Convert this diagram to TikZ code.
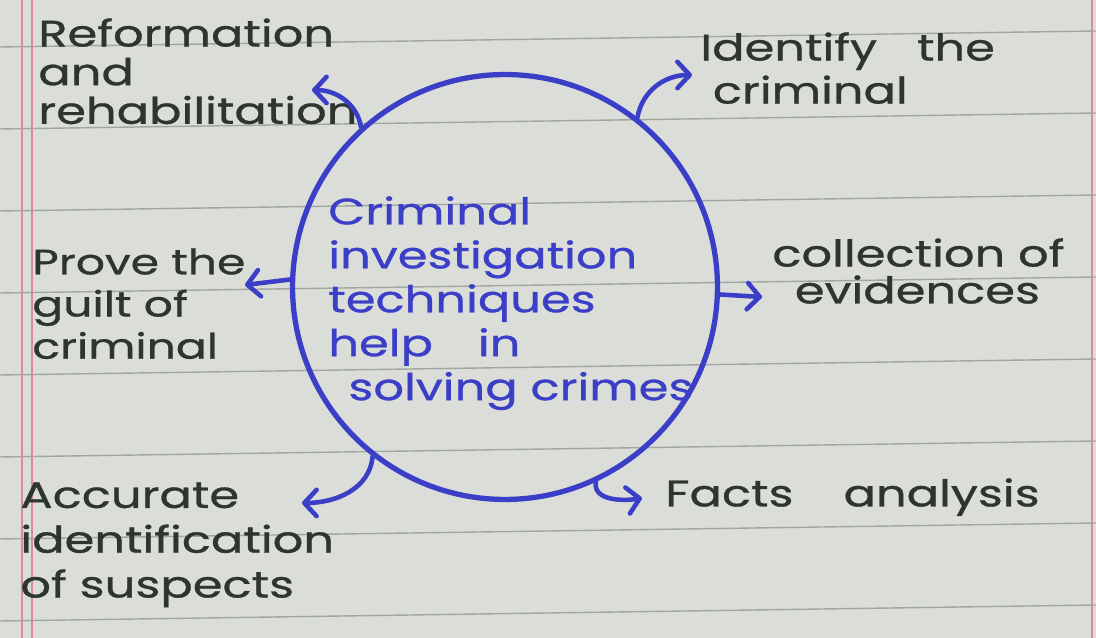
\documentclass[tikz,border=0pt]{standalone}
\usepackage{fontspec}
\setmainfont{Poppins}[FakeStretch=1.3, FakeBold=0.8]
\usepackage{tikz}
\usetikzlibrary{arrows.meta}
\definecolor{inkblue}{HTML}{3B3EC6}
\definecolor{graphite}{HTML}{2E3430}
\definecolor{paper}{HTML}{DADDD8}
\definecolor{rule}{HTML}{A2A6A2}
\definecolor{margin}{HTML}{D98A9B}

\begin{document}
\begin{tikzpicture}[x=0.02cm, y=0.02cm,
  penline/.style={draw=inkblue, line width=2.6pt, line cap=round},
  flow/.style={penline, -{Straight Barb[length=7pt, width=15pt, round]}},
  hub/.style={circle, draw=inkblue, line width=3pt, minimum size=8.5cm, inner sep=0pt},
  note/.style={text=graphite, align=left, anchor=north west, inner sep=0pt, font=\fontsize{21}{22}\selectfont},
  hubtext/.style={text=inkblue, align=left, anchor=north west, inner sep=0pt, font=\fontsize{21}{25}\selectfont}]
% paper
\fill[paper] (0,0) rectangle (1096,638);
\useasboundingbox (0,0) rectangle (1096,638);
\foreach \r in {17,99,...,591}
  \draw[rule, line width=0.8pt] (0,\r) -- (1096,\r+16);
\draw[margin, line width=1.2pt] (22,0) -- (22,638) (32,0) -- (32,638) (1092,0) -- (1092,638);

% centre
\node[hub] (hub) at (505,351) {};
\node[hubtext] (hubcap) at (328,442) {Criminal\\investigation\\techniques\\help\hspace{0.9cm}in\\\hspace{0.4cm}solving crimes};

% labels
\node[note] (reform) at (38,620) {Reformation\\and\\rehabilitation};
\node[note, font=\fontsize{21}{24.5}\selectfont] (ident) at (700,606) {Identify\hspace{0.8cm}the\\\hspace{0.25cm}criminal};
\node[note, font=\fontsize{20}{24}\selectfont] (prove) at (32,390) {Prove the\\guilt of\\criminal};
\node[note, font=\fontsize{21}{21}\selectfont] (collect) at (772,400) {collection of\\\hspace{0.45cm}evidences};
\node[note, font=\fontsize{21}{25.5}\selectfont] (accur) at (20,156) {Accurate\\identification\\of suspects};
\node[note] (facts) at (665,160) {Facts\hspace{1cm}analysis};

% arrow ends
\coordinate (tipReform) at (312,548);
\coordinate (tipIdent) at (692,563);
\coordinate (tipProve) at (245,353);
\coordinate (tipCollect) at (762,341);
\coordinate (tipAccur) at (302,135);
\coordinate (tipFacts) at (642,140);

\draw[flow] (hub.132) to[out=100, in=0] (tipReform);
\draw[flow] (hub.52) to[out=80, in=180] (tipIdent);
\draw[flow] (hub.178) -- (tipProve);
\draw[flow] (hub.358) -- (tipCollect);
\draw[flow] (hub.232) to[out=-95, in=0] (tipAccur);
\draw[flow] (hub.295) to[out=-100, in=190] (tipFacts);
\end{tikzpicture}
\end{document}
